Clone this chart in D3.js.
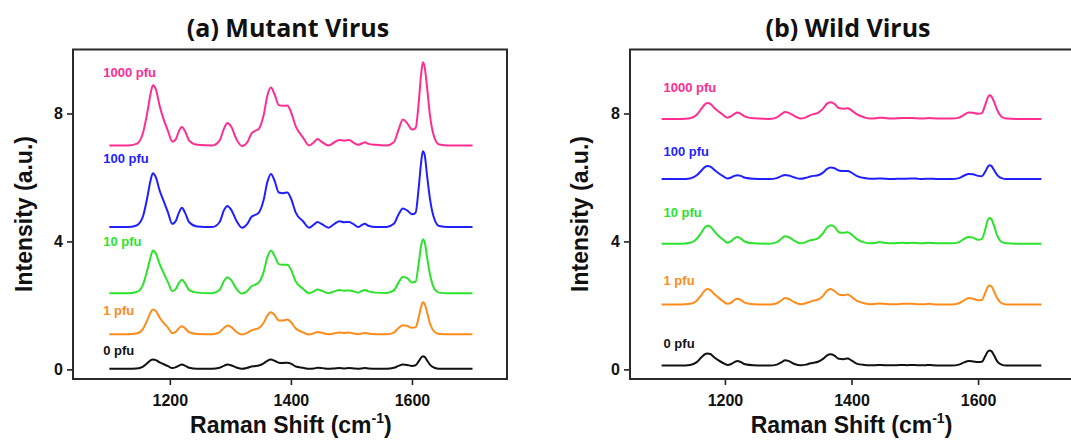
<!DOCTYPE html>
<html>
<head>
<meta charset="utf-8">
<script src="https://cdn.jsdelivr.net/npm/d3@7"></script>
<style>
  body { margin: 0; background: #fff; }
  svg { display: block; }
</style>
</head>
<body>
<div id="chart"></div>
<script>
// Raman shift sample positions (cm-1), shared by every spectrum
const shift = [1100,1130,1145,1155,1163,1168,1172,1177,1183,1190,
  1197,1204,1210,1215,1220,1225,1232,1245,1270,1282,
  1290,1295,1301,1310,1319,1328,1335,1340,1347,1355,
  1361,1367,1373,1380,1387,1394,1400,1408,1420,1430,
  1438,1444,1452,1462,1472,1480,1488,1496,1504,1511,
  1517,1522,1528,1540,1558,1570,1578,1585,1592,1600,
  1606,1611,1615,1618,1621,1625,1630,1637,1645,1660,1700];

const labels = ["1000 pfu", "100 pfu", "10 pfu", "1 pfu", "0 pfu"];
const colors = ["#ff2d8f", "#1f1fff", "#2be32b", "#ff8c1a", "#111111"];
const xTicks = [1200, 1400, 1600];
const yTicks = [0, 4, 8];

// (a) mutant virus spectra (stacked, a.u.)
const mutant1000 = [7.00,7.00,7.05,7.35,8.05,8.60,8.88,8.75,8.25,7.80,
  7.45,7.12,7.20,7.45,7.58,7.45,7.15,7.02,7.00,7.15,
  7.55,7.70,7.60,7.20,6.98,7.10,7.38,7.45,7.52,7.95,
  8.55,8.81,8.60,8.26,8.24,8.25,8.05,7.60,7.25,7.00,
  7.10,7.20,7.10,7.00,7.10,7.17,7.15,7.17,7.08,7.02,
  7.06,7.10,7.05,7.02,7.00,7.10,7.50,7.81,7.70,7.50,
  7.55,8.30,9.20,9.60,9.45,8.80,7.90,7.25,7.03,7.00,7.00];
const mutant100 = [4.45,4.45,4.50,4.75,5.40,5.90,6.13,6.00,5.60,5.25,
  4.90,4.55,4.65,4.90,5.05,4.90,4.60,4.47,4.45,4.60,
  5.00,5.11,5.00,4.65,4.43,4.55,4.77,4.82,4.90,5.30,
  5.85,6.11,5.90,5.53,5.51,5.53,5.35,4.90,4.63,4.43,
  4.53,4.61,4.53,4.43,4.55,4.63,4.60,4.61,4.53,4.45,
  4.51,4.55,4.49,4.45,4.45,4.55,4.85,5.03,4.97,4.85,
  4.90,5.65,6.45,6.82,6.70,6.05,5.30,4.70,4.48,4.45,4.45];
const mutant10 = [2.38,2.38,2.42,2.62,3.12,3.50,3.72,3.62,3.30,3.00,
  2.72,2.45,2.52,2.70,2.80,2.70,2.48,2.40,2.38,2.48,
  2.78,2.88,2.80,2.52,2.37,2.45,2.60,2.64,2.72,3.05,
  3.50,3.72,3.55,3.29,3.27,3.27,3.12,2.75,2.52,2.38,
  2.44,2.50,2.45,2.38,2.44,2.48,2.46,2.47,2.44,2.40,
  2.45,2.48,2.44,2.40,2.39,2.47,2.72,2.90,2.85,2.72,
  2.74,3.30,3.85,4.07,3.98,3.50,2.95,2.52,2.40,2.38,2.38];
const mutant1 = [1.10,1.10,1.12,1.25,1.55,1.78,1.87,1.82,1.62,1.45,
  1.30,1.13,1.18,1.29,1.35,1.29,1.16,1.11,1.10,1.16,
  1.31,1.37,1.33,1.17,1.09,1.14,1.22,1.25,1.29,1.46,
  1.68,1.79,1.70,1.53,1.53,1.56,1.48,1.28,1.16,1.09,
  1.13,1.17,1.14,1.10,1.13,1.15,1.14,1.15,1.12,1.10,
  1.12,1.14,1.12,1.10,1.10,1.15,1.30,1.38,1.36,1.30,
  1.32,1.62,1.95,2.10,2.04,1.78,1.42,1.18,1.11,1.10,1.10];
const mutant0 = [0.02,0.02,0.03,0.08,0.20,0.28,0.31,0.29,0.22,0.16,
  0.10,0.04,0.07,0.12,0.15,0.12,0.05,0.02,0.02,0.05,
  0.12,0.15,0.13,0.06,0.02,0.05,0.09,0.10,0.12,0.19,
  0.27,0.31,0.27,0.21,0.20,0.21,0.18,0.09,0.05,0.02,
  0.03,0.05,0.04,0.02,0.03,0.04,0.03,0.04,0.03,0.02,
  0.03,0.04,0.03,0.02,0.02,0.05,0.11,0.15,0.14,0.11,
  0.13,0.25,0.36,0.41,0.39,0.28,0.14,0.05,0.02,0.02,0.02];

// (b) wild virus spectra
const wild1000 = [7.83,7.83,7.85,7.95,8.15,8.28,8.33,8.30,8.18,8.06,
  7.96,7.87,7.92,7.99,8.03,7.99,7.90,7.85,7.83,7.88,
  7.99,8.05,8.02,7.92,7.84,7.88,7.95,7.98,8.02,8.15,
  8.30,8.35,8.30,8.17,8.15,8.16,8.10,7.98,7.88,7.84,
  7.85,7.87,7.86,7.84,7.85,7.86,7.86,7.86,7.85,7.84,
  7.85,7.86,7.85,7.84,7.84,7.87,7.96,8.03,8.02,7.99,
  8.01,8.25,8.48,8.57,8.54,8.38,8.12,7.90,7.84,7.83,7.83];
const wild100 = [5.95,5.95,5.97,6.06,6.22,6.32,6.36,6.34,6.24,6.13,
  6.04,5.97,6.00,6.05,6.07,6.05,5.99,5.96,5.95,5.98,
  6.05,6.08,6.06,6.00,5.96,5.99,6.03,6.05,6.07,6.15,
  6.26,6.31,6.29,6.22,6.20,6.20,6.15,6.05,5.98,5.96,
  5.96,5.97,5.96,5.95,5.96,5.96,5.96,5.97,5.96,5.95,
  5.96,5.96,5.96,5.95,5.95,5.98,6.06,6.11,6.10,6.05,
  6.04,6.17,6.32,6.38,6.36,6.24,6.08,5.98,5.95,5.95,5.95];
const wild10 = [3.93,3.93,3.96,4.07,4.28,4.43,4.49,4.46,4.32,4.17,
  4.06,3.96,4.01,4.10,4.14,4.09,3.99,3.94,3.93,3.98,
  4.10,4.16,4.13,4.02,3.94,3.98,4.04,4.05,4.10,4.25,
  4.43,4.51,4.46,4.29,4.27,4.29,4.22,4.08,3.97,3.94,
  3.96,3.98,3.96,3.94,3.95,3.96,3.95,3.96,3.95,3.94,
  3.95,3.96,3.95,3.94,3.94,3.98,4.08,4.14,4.12,4.05,
  4.08,4.35,4.65,4.73,4.70,4.50,4.20,3.99,3.94,3.93,3.93];
const wild1 = [2.03,2.03,2.05,2.14,2.33,2.46,2.51,2.48,2.36,2.24,
  2.13,2.05,2.09,2.17,2.21,2.17,2.08,2.04,2.03,2.07,
  2.17,2.23,2.20,2.10,2.04,2.07,2.12,2.15,2.18,2.30,
  2.45,2.51,2.45,2.34,2.32,2.34,2.27,2.15,2.07,2.04,
  2.05,2.06,2.05,2.04,2.04,2.05,2.05,2.05,2.04,2.04,
  2.04,2.05,2.04,2.03,2.03,2.07,2.16,2.23,2.21,2.16,
  2.17,2.38,2.57,2.62,2.60,2.45,2.23,2.07,2.03,2.03,2.03];
const wild0 = [0.12,0.12,0.14,0.22,0.38,0.47,0.50,0.48,0.38,0.28,
  0.20,0.14,0.17,0.23,0.26,0.23,0.16,0.13,0.12,0.15,
  0.23,0.29,0.26,0.17,0.13,0.15,0.19,0.21,0.24,0.33,
  0.43,0.47,0.43,0.33,0.32,0.34,0.28,0.18,0.14,0.13,
  0.13,0.14,0.13,0.13,0.13,0.14,0.13,0.14,0.13,0.13,
  0.13,0.14,0.13,0.12,0.12,0.15,0.22,0.26,0.25,0.23,
  0.24,0.40,0.55,0.59,0.57,0.45,0.26,0.15,0.12,0.12,0.12];

const W = 1071, H = 446;
const svg = d3.select("#chart").append("svg")
  .attr("width", W)
  .attr("height", H);

const panels = [
  {title: "(a) Mutant Virus", series: [mutant1000, mutant100, mutant10, mutant1, mutant0],
   left: 73, right: 507, domain: [1040, 1757], titleX: 288,
   labelX: 1090, labelY: [9.14, 6.45, 3.86, 1.70, 0.45], yTitleX: 32},
  {title: "(b) Wild Virus", series: [wild1000, wild100, wild10, wild1, wild0],
   left: 630, right: 1073, domain: [1050, 1750], titleX: 848,
   labelX: 1103, labelY: [8.67, 6.66, 4.76, 2.64, 0.67], yTitleX: 588}
];

const plotTop = 49.5, plotBottom = 379;
const yScale = d3.scaleLinear().domain([-0.3, 10]).range([plotBottom, plotTop]);

panels.forEach(p => {
  const x = d3.scaleLinear().domain(p.domain).range([p.left, p.right]);
  const g = svg.append("g");

  // spectra
  const line = d3.line()
    .x((d, i) => x(shift[i]))
    .y(d => yScale(d))
    .curve(d3.curveMonotoneX);

  p.series.forEach((s, k) => {
    g.append("path")
      .datum(s)
      .attr("fill", "none")
      .attr("stroke", colors[k])
      .attr("stroke-width", 2)
      .attr("stroke-linejoin", "round")
      .attr("d", line);

    g.append("text")
      .attr("x", x(p.labelX))
      .attr("y", yScale(p.labelY[k]))
      .attr("font-family", "Liberation Sans, Arial, sans-serif")
      .attr("font-weight", "bold")
      .attr("font-size", 13)
      .attr("fill", colors[k])
      .text(labels[k]);
  });

  // axes
  const xAxis = g.append("g")
    .attr("transform", "translate(0," + plotBottom + ")")
    .call(d3.axisBottom(x).tickValues(xTicks).tickSize(6).tickPadding(10).tickFormat(d3.format("d")));
  const yAxis = g.append("g")
    .attr("transform", "translate(" + p.left + ",0)")
    .call(d3.axisLeft(yScale).tickValues(yTicks).tickSize(6).tickPadding(4));

  [xAxis, yAxis].forEach(a => {
    a.select(".domain").remove();
    a.selectAll("line").attr("stroke", "#222").attr("stroke-width", 1.6);
    a.selectAll("text")
      .attr("font-family", "Liberation Sans, Arial, sans-serif")
      .attr("font-weight", "bold")
      .attr("font-size", 16)
      .attr("fill", "#111");
  });

  // frame
  g.append("rect")
    .attr("x", p.left)
    .attr("y", plotTop)
    .attr("width", p.right - p.left)
    .attr("height", plotBottom - plotTop)
    .attr("fill", "none")
    .attr("stroke", "#2a2a2a")
    .attr("stroke-width", 2);

  // titles
  g.append("text")
    .attr("x", p.titleX)
    .attr("y", 37)
    .attr("text-anchor", "middle")
    .attr("font-family", "Open Sans, sans-serif")
    .attr("font-weight", "bold")
    .attr("font-size", 25)
    .attr("fill", "#111")
    .text(p.title);

  const xt = g.append("text")
    .attr("x", (x(1100) + x(1700)) / 2)
    .attr("y", 433)
    .attr("text-anchor", "middle")
    .attr("font-family", "Liberation Sans, Arial, sans-serif")
    .attr("font-weight", "bold")
    .attr("font-size", 23)
    .attr("fill", "#111");
  xt.append("tspan").text("Raman Shift (cm");
  xt.append("tspan").attr("font-size", 14).attr("dy", -10).text("-1");
  xt.append("tspan").attr("dy", 10).text(")");

  g.append("text")
    .attr("transform", "translate(" + p.yTitleX + "," + 214 + ") rotate(-90)")
    .attr("text-anchor", "middle")
    .attr("font-family", "Liberation Sans, Arial, sans-serif")
    .attr("font-weight", "bold")
    .attr("font-size", 23)
    .attr("fill", "#111")
    .text("Intensity (a.u.)");
});
</script>
</body>
</html>
